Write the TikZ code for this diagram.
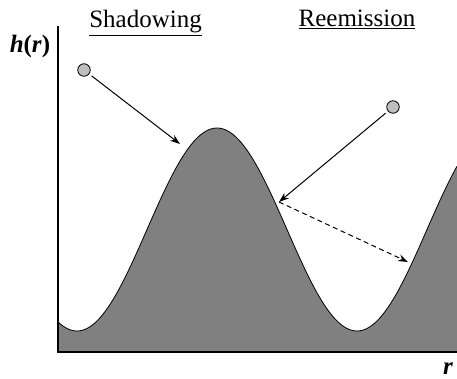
\documentclass[tikz,border=0pt]{standalone}
\usepackage{fontspec}
\setmainfont{Liberation Serif}[
  BoldFont={Liberation Serif Bold},
  ItalicFont={Liberation Serif Italic},
  BoldItalicFont={Liberation Serif Bold Italic}]
\usetikzlibrary{arrows.meta}
\tikzset{
  axisline/.style={line width=1.6pt},
  surf/.style    ={line width=0.8pt},
  ball/.style    ={circle,draw,fill=black!25,minimum size=12.5pt,inner sep=0pt,line width=0.8pt},
  ray/.style     ={-{Stealth[length=10pt,width=7pt]},line width=1pt,shorten <=3pt},
  reray/.style   ={ray,shorten <=0pt,dash pattern=on 5pt off 3.5pt},
  ttl/.style     ={font=\fontsize{25}{30}\selectfont,anchor=base},
  sym/.style     ={font=\fontsize{25}{30}\selectfont\bfseries\itshape,anchor=base},
}
\begin{document}
\begin{tikzpicture}[x=1pt,y=-1pt]
  \useasboundingbox (0,0) rectangle (457,379);
  % rough surface h(r)
  \def\xa{58} \def\xb{457} \def\base{352}
  \fill[black!50] (\xa,\base) -- plot[domain=\xa:\xb,samples=160] (\x,{229.5+101.5*cos((\x-77)*1.285714)}) -- (\xb,\base) -- cycle;
  \draw[surf] plot[domain=\xa:\xb,samples=160] (\x,{229.5+101.5*cos((\x-77)*1.285714)});
  % axes
  \coordinate (ytop) at (\xa,26);
  \coordinate (orig) at (\xa,\base);
  \coordinate (xend) at (\xb,\base);
  \draw[axisline] (ytop) -- (orig) -- (xend);
  % labels
  \node[ttl] (shad) at (145.5,28) {\underline{Shadowing}};
  \node[ttl] (reem) at (357,27) {\underline{Reemission}};
  \node[sym] (hr) at (30,53) {h\textup{(}r\textup{)}};
  \node[sym,inner sep=1pt] (rr) at (448,374) {r};
  % particles and rays
  \node[ball] (ballL) at (84,70) {};
  \node[ball] (ballR) at (393,107) {};
  \coordinate (hitL) at (180,144);
  \coordinate (hitR) at (279,202);
  \coordinate (hitD) at (408,262);
  \draw[ray]   (ballL) -- (hitL);
  \draw[ray]   (ballR) -- (hitR);
  \draw[reray] (hitR)  -- (hitD);
\end{tikzpicture}
\end{document}
